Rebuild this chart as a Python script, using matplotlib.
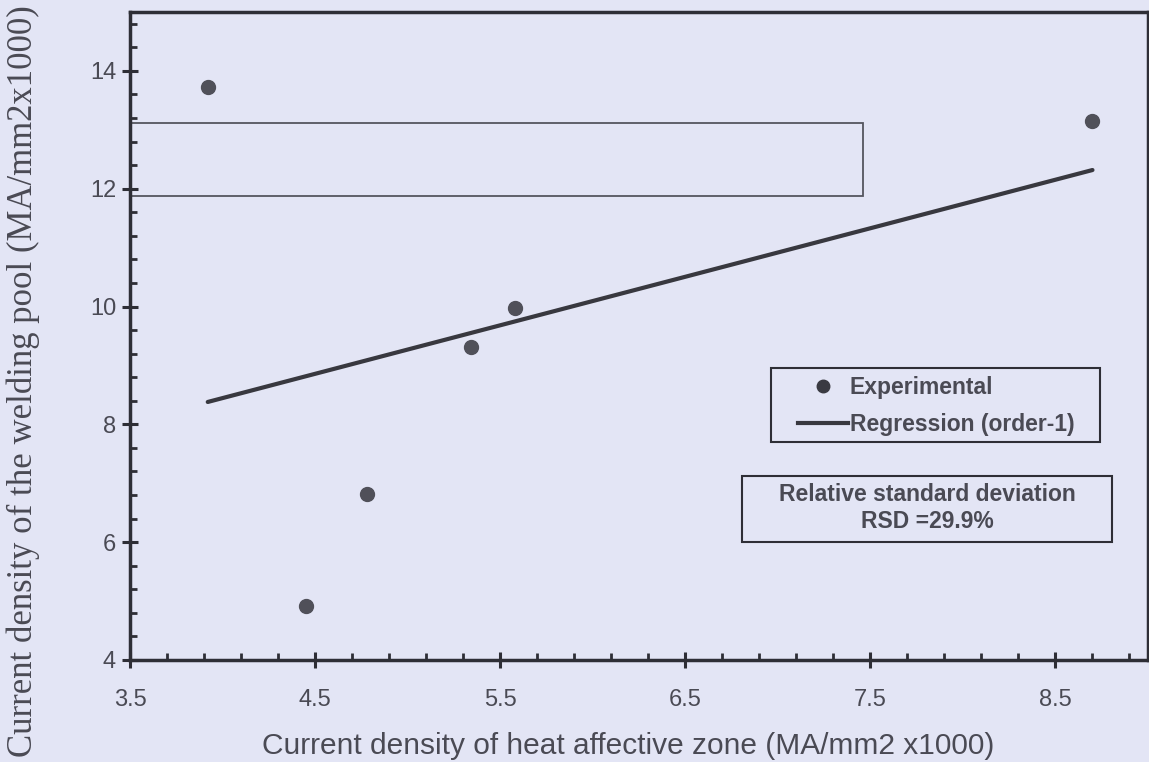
import numpy as np
import matplotlib.pyplot as plt
from matplotlib.ticker import FixedLocator, MultipleLocator
from matplotlib.patches import Rectangle
from matplotlib.lines import Line2D

# current density, heat affective zone vs welding pool (MA/mm2 x1000)
hz_density = [3.92, 4.45, 4.78, 5.34, 5.58, 8.70]
pool_density = [13.73, 4.92, 6.81, 9.31, 9.98, 13.15]

x_ticks = [3.5, 4.5, 5.5, 6.5, 7.5, 8.5]
y_ticks = [4, 6, 8, 10, 12, 14]
rsd_text = 'Relative standard deviation\nRSD =29.9%'

bg = '#e3e5f5'
ink = '#2e2e36'
txt = '#4a4a54'

fig = plt.figure(figsize=(11.49, 7.62), dpi=100, facecolor=bg)
ax = fig.add_axes([130 / 1149, 102 / 762, 1018 / 1149, 648 / 762])
ax.set_facecolor(bg)

x = np.array(hz_density)
y = np.array(pool_density)

# first order fit
k, b = np.polyfit(x, y, 1)
xf = np.array([x.min(), x.max()])

ax.plot(x, y, 'o', color='#505059', markersize=10, zorder=3)
ax.plot(xf, k * xf + b, '-', color='#38383f', lw=3, solid_capstyle='round', zorder=3)

ax.set_xlim(3.5, 9.0)
ax.set_ylim(4, 15)
ax.set_xticks(x_ticks)
ax.set_xticklabels([str(v) for v in x_ticks])
ax.set_yticks(y_ticks)
ax.xaxis.set_minor_locator(FixedLocator(np.arange(3.5, 9.01, 0.2)))
ax.yaxis.set_minor_locator(MultipleLocator(0.4))

for s in ax.spines.values():
    s.set_color(ink)
    s.set_linewidth(2.5)

ax.tick_params(which='major', direction='inout', length=12, width=2.2, color=ink,
               labelsize=17, labelcolor=txt)
ax.tick_params(which='minor', direction='in', length=5, width=2, color=ink)
ax.tick_params(axis='x', which='major', pad=15)
ax.tick_params(axis='y', which='major', pad=4)
for lab in ax.get_xticklabels() + ax.get_yticklabels():
    lab.set_family('Liberation Sans')

ax.set_xlabel('Current density of heat affective zone (MA/mm2 x1000)',
              family='Liberation Sans', fontsize=21.5, color=txt)
ax.xaxis.set_label_coords(0.489, -0.1327)
ax.xaxis.label.set_va('center')

ax.set_ylabel('Current density of the welding pool (MA/mm2x1000)',
              family='Liberation Serif', fontsize=25, color=txt)
ax.yaxis.set_label_coords(-0.105, 0.4306)
ax.yaxis.label.set_va('center')

# empty box at the top
ax.add_patch(Rectangle((0, 0.716), 0.720, 0.1127, transform=ax.transAxes,
                       fill=False, edgecolor='#55555f', lw=1.3, zorder=2))

# legend with a plain frame
handles = [Line2D([], [], ls='none', marker='o', color='#3a3a42', markersize=9),
           Line2D([], [], color='#38383f', lw=3)]
leg = ax.legend(handles, ['Experimental', 'Regression (order-1)'],
                loc='upper left', bbox_to_anchor=((798 - 130) / 1018, (660 - 376) / 648),
                frameon=False, borderpad=0, borderaxespad=0, handlelength=2.2,
                handletextpad=0.05, labelspacing=0.6,
                prop={'family': 'Liberation Sans', 'weight': 'bold', 'size': 16.5})
for t in leg.get_texts():
    t.set_color(txt)
ax.add_patch(Rectangle((0.6297, 0.3364), 0.3231, 0.1142, transform=ax.transAxes,
                       fill=False, edgecolor=ink, lw=1.5, zorder=2))

# RSD note
ax.add_patch(Rectangle((0.6012, 0.1821), 0.3634, 0.1019, transform=ax.transAxes,
                       fill=False, edgecolor=ink, lw=1.5, zorder=2))
ax.text(0.7829, 0.2345, rsd_text, transform=ax.transAxes, ha='center', va='center',
        family='Liberation Sans', weight='bold', fontsize=16.5, color=txt,
        linespacing=1.25)

fig.savefig('out.png', dpi=100, facecolor=bg)
